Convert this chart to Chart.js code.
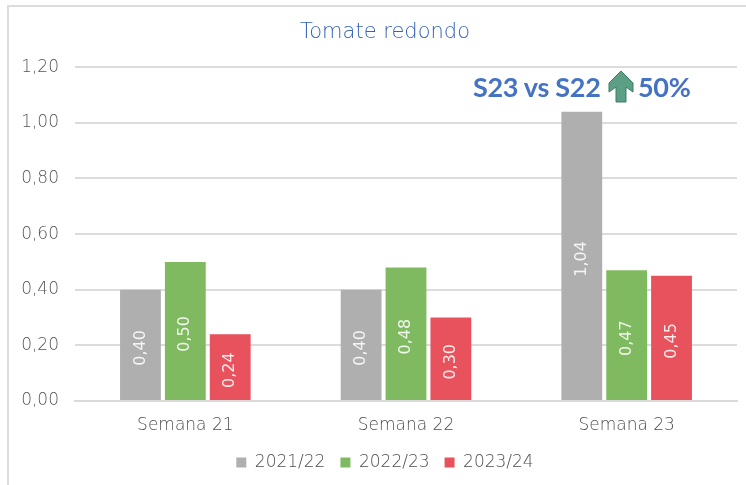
<!DOCTYPE html>
<html><head><meta charset="utf-8">
<script src="https://cdn.jsdelivr.net/npm/chart.js@4"></script>
<style>
html,body{margin:0;padding:0;background:#fff;overflow:hidden}
#wrap{position:relative;width:746px;height:485px}
canvas{position:absolute;left:0;top:0}
#frame{position:absolute;left:7px;top:5px;right:-5px;bottom:-5px;border:2px solid #dcdcdc;pointer-events:none}
#note{position:absolute;top:70px;left:473px;height:34px;white-space:nowrap;font:700 27px/34px Lato,sans-serif;color:#4472c4;letter-spacing:-.3px}
#note span{position:absolute;top:0}
#note svg{position:absolute;left:135px;top:0}
</style></head><body>
<div id="wrap">
<canvas id="c" width="746" height="485"></canvas>
<div id="frame"></div>
<div id="note"><span style="left:0">S23 vs S22</span>
<svg width="28" height="33" viewBox="0 0 28 33"><path d="M13 1 L25 13 L25 22 L18 17 L18 32 L8 32 L8 17 L1 22 L1 13 Z" fill="#5b9f84" stroke="#3f7d66" stroke-width="1"/></svg>
<span style="left:165px">50%</span></div>
</div>
<script>
const categories=['Semana 21','Semana 22','Semana 23'];
const season1=[0.40,0.40,1.04];
const season2=[0.50,0.48,0.47];
const season3=[0.24,0.30,0.45];
const seasonNames=['2021/22','2022/23','2023/24'];
const titleText='Tomate redondo';
const FONT='"DejaVu Sans", sans-serif';
const W=200;
const fmt=v=>v.toFixed(2).replace('.',',');
const valueLabels={id:'valueLabels',afterDatasetsDraw(chart){
  const ctx=chart.ctx;
  chart.data.datasets.forEach((ds,i)=>{
    chart.getDatasetMeta(i).data.forEach((bar,j)=>{
      ctx.save();
      ctx.translate(bar.x,(bar.y+bar.base)/2+3);
      ctx.rotate(-Math.PI/2);
      ctx.fillStyle='rgba(255,255,255,.88)';
      ctx.font='400 16px '+FONT;
      ctx.textAlign='center';ctx.textBaseline='middle';
      ctx.fillText(fmt(ds.data[j]),0,0);
      ctx.restore();
    });
  });
}};
const common={categoryPercentage:0.61,barPercentage:0.91};
new Chart(document.getElementById('c'),{
  type:'bar',
  data:{labels:categories,datasets:[
    {label:seasonNames[0],data:season1,backgroundColor:'#afafaf',...common},
    {label:seasonNames[1],data:season2,backgroundColor:'#80ba60',...common},
    {label:seasonNames[2],data:season3,backgroundColor:'#e7525d',...common}
  ]},
  options:{
    responsive:false,animation:false,
    layout:{padding:{left:33,right:9,top:20,bottom:4}},
    plugins:{
      title:{display:true,text:titleText,color:'#3563b8',font:{family:FONT,size:21,weight:W},padding:{top:0,bottom:22}},
      legend:{position:'bottom',labels:{boxWidth:10,boxHeight:10,padding:15,color:'#4f4f4f',font:{family:FONT,size:17,weight:W}}},
      tooltip:{enabled:false}
    },
    scales:{
      x:{grid:{display:false},border:{color:'#d9d9d9',width:2},
         ticks:{color:'#4f4f4f',font:{family:FONT,size:17,weight:W},padding:6},
         afterFit(s){s.height=38}},
      y:{min:0,max:1.2,
         ticks:{stepSize:0.2,color:'#555555',font:{family:FONT,size:17,weight:W},padding:16,callback:v=>fmt(v)},
         grid:{color:'#dcdcdc',lineWidth:2,drawTicks:false},border:{display:false},
         afterFit(s){s.width=42;s._computeLabelArea=()=>undefined}}
    }
  },
  plugins:[valueLabels]
});
</script>
</body></html>
